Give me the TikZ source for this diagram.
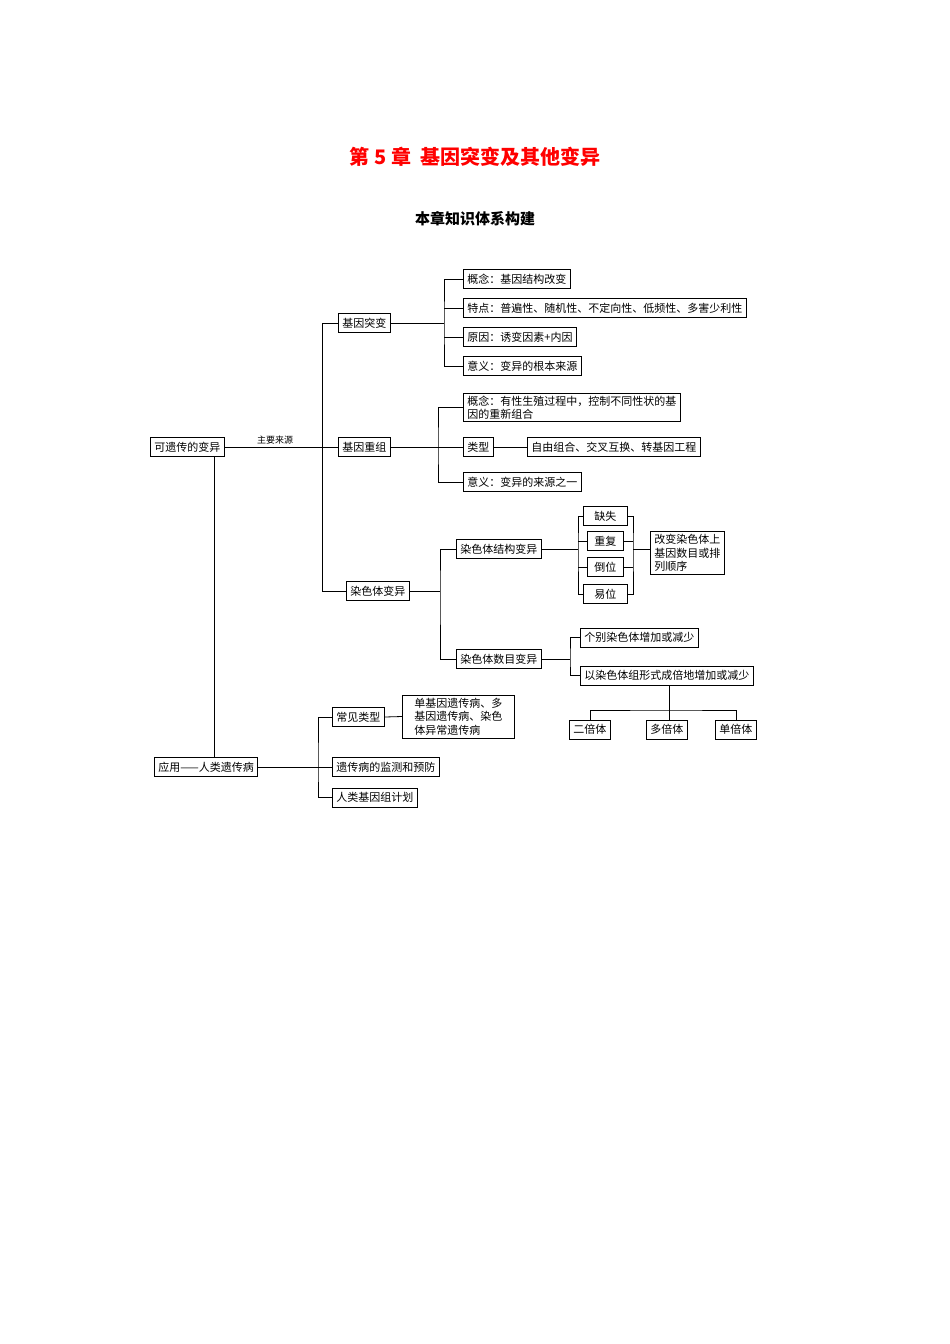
\documentclass[tikz,border=0pt]{standalone}
\usepackage{fontspec}
\setmainfont{Noto Sans CJK SC}
\begin{document}
\begin{tikzpicture}[x=1pt,y=-1pt,
  bx/.style={draw,line width=0.8pt,anchor=west,inner xsep=4pt,inner ysep=2pt,font=\fontsize{11}{13.5}\selectfont,minimum height=19pt},
  ln/.style={line width=0.8pt}]
\useasboundingbox (0,0) rectangle (950,1344);
\node[text=red,font=\fontsize{20}{24}\selectfont\bfseries] (title) at (475,157) {第 5 章\ \ 基因突变及其他变异};
\node[font=\fontsize{15}{18}\selectfont\bfseries] (sub) at (475,219) {本章知识体系构建};
% left
\node[bx] (kb) at (150,447) {可遗传的变异};
\node[bx] (jt) at (338,323) {基因突变};
\node[bx] (jc) at (338,447) {基因重组};
\node[bx] (rs) at (346,591) {染色体变异};
\coordinate (sp1) at (322,323);
\coordinate (sp2) at (322,591);
\draw[ln] (kb.east) -- (jc.west);
\node[font=\fontsize{9}{10}\selectfont] (zy) at (275,440) {主要来源};
\draw[ln] (jt.west) -- (sp1) -- (sp2) -- (rs.west);
% gene mutation
\node[bx] (a1) at (463,279) {概念：基因结构改变};
\node[bx] (a2) at (463,308) {特点：普遍性、随机性、不定向性、低频性、多害少利性};
\node[bx] (a3) at (463,337) {原因：诱变因素+内因};
\node[bx] (a4) at (463,366) {意义：变异的根本来源};
\coordinate (ab) at (444,323);
\draw[ln] (jt.east) -- (ab);
\draw[ln] (a1.west) -| (ab) |- (a4.west);
\draw[ln] (a2.west) -- (a2.west -| ab);
\draw[ln] (a3.west) -- (a3.west -| ab);
% recombination
\node[bx,align=left] (b1) at (463,407.5) {概念：有性生殖过程中，控制不同性状的基\\因的重新组合};
\node[bx] (b2) at (463,447) {类型};
\node[bx] (b2r) at (527,447) {自由组合、交叉互换、转基因工程};
\node[bx] (b3) at (463,482) {意义：变异的来源之一};
\coordinate (bb) at (438,447);
\draw[ln] (jc.east) -- (b2.west);
\draw[ln] (b2.east) -- (b2r.west);
\draw[ln] (b1.west) -| (bb) |- (b3.west);
% chromosome
\node[bx] (c1) at (456,549) {染色体结构变异};
\node[bx] (c2) at (456,659) {染色体数目变异};
\coordinate (cb) at (440,591);
\draw[ln] (rs.east) -- (cb);
\draw[ln] (c1.west) -| (cb) |- (c2.west);
\node[bx,minimum width=44pt] (d1) at (583,516) {缺失};
\node[bx,minimum width=36pt] (d2) at (587,541) {重复};
\node[bx,minimum width=36pt] (d3) at (587,567) {倒位};
\node[bx,minimum width=44pt] (d4) at (583,594) {易位};
\coordinate (dl) at (578,549);
\coordinate (dr) at (633,549);
\draw[ln] (c1.east) -- (dl);
\draw[ln] (d1.west) -| (dl) |- (d4.west);
\draw[ln] (d2.west) -- (d2.west -| dl);
\draw[ln] (d3.west) -- (d3.west -| dl);
\draw[ln] (d1.east) -| (dr) |- (d4.east);
\draw[ln] (d2.east) -- (d2.east -| dr);
\draw[ln] (d3.east) -- (d3.east -| dr);
\node[bx,align=left,inner ysep=3pt] (dd) at (650,553) {改变染色体上\\基因数目或排\\列顺序};
\draw[ln] (dr) -- (dr -| dd.west);
\node[bx] (e1) at (580,637.5) {个别染色体增加或减少};
\node[bx] (e2) at (580,675.5) {以染色体组形式成倍地增加或减少};
\coordinate (eb) at (570,659);
\draw[ln] (c2.east) -- (eb);
\draw[ln] (e1.west) -| (eb) |- (e2.west);
\node[bx] (f1) at (569,729.5) {二倍体};
\node[bx] (f2) at (646,729.5) {多倍体};
\node[bx] (f3) at (715,729.5) {单倍体};
\coordinate (fm) at (669,710);
\draw[ln] (e2.south -| fm) -- (fm);
\draw[ln] (f1.north) |- (fm) -| (f3.north);
\draw[ln] (fm) -- (fm |- f2.north);
% application
\node[bx] (g0) at (154,767) {应用——人类遗传病};
\draw[ln] (kb.south -| 214,0) -- (g0.north -| 214,0);
\node[bx] (g1) at (332,717) {常见类型};
\node[bx] (g2) at (332,767) {遗传病的监测和预防};
\node[bx] (g3) at (332,797.5) {人类基因组计划};
\node[bx,align=left,inner xsep=12pt,inner ysep=3pt] (g4) at (402,716.5) {单基因遗传病、多\\基因遗传病、染色\\体异常遗传病};
\coordinate (gb) at (318,767);
\draw[ln] (g0.east) -- (g2.west);
\draw[ln] (g1.west) -| (gb) |- (g3.west);
\draw[ln] (g1.east) -- (g4.west);
\end{tikzpicture}
\end{document}
